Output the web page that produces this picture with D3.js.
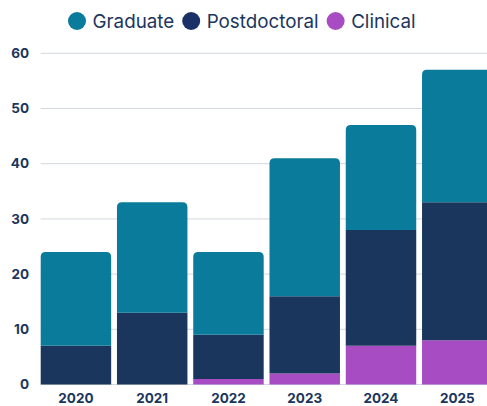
<!DOCTYPE html>
<html><head><meta charset="utf-8">
<script src="https://cdn.jsdelivr.net/npm/d3@7"></script>
<style>html,body{margin:0;padding:0;background:#fff;overflow:hidden}</style>
</head><body><svg id="c" width="487" height="406"></svg>
<script>
const years = ["2020","2021","2022","2023","2024","2025"];
const clinical = [0, 0, 1, 2, 7, 8];
const postdoctoral = [7, 13, 8, 14, 21, 25];
const graduate = [17, 20, 15, 25, 19, 24];
const seriesNames = ["Clinical","Postdoctoral","Graduate"];
const legendNames = ["Graduate","Postdoctoral","Clinical"];
const yTicks = [0,10,20,30,40,50,60];
const colors = {Graduate:"#0a7b9a", Postdoctoral:"#1b365d", Clinical:"#a84cc4"};
const legendColors = {Graduate:"#0a7b9a", Postdoctoral:"#1a3168", Clinical:"#a84cc4"};

const svg = d3.select("#c");
const font = "Inter, 'Noto Sans', sans-serif";
const x = d3.scaleBand().domain(years).range([40.7, 492.5]).paddingInner(0.076).paddingOuter(0);
const y = d3.scaleLinear().domain([0,60]).range([384.5, 53.3]);

// grid
svg.append("g").selectAll("line").data(yTicks).join("line")
  .attr("x1", 40.7).attr("x2", 487)
  .attr("y1", d=>y(d)).attr("y2", d=>y(d))
  .attr("stroke", "#d3d7e0").attr("stroke-width", 1);

// y labels
svg.append("g").selectAll("text").data(yTicks).join("text")
  .attr("x", 29).attr("y", d=>y(d)).attr("dy","0.35em")
  .attr("text-anchor","end").attr("font-family",font).attr("font-weight",700)
  .attr("font-size",13.5).attr("fill","#1b365d").text(d=>d);

// x labels
svg.append("g").selectAll("text").data(years).join("text")
  .attr("x", d=>x(d)+x.bandwidth()/2).attr("y", 398).attr("dy","0.35em")
  .attr("text-anchor","middle").attr("font-family",font).attr("font-weight",700)
  .attr("font-size",13.5).attr("fill","#1b365d").text(d=>d);

const table = years.map((yr,i)=>({year:yr, Clinical:clinical[i], Postdoctoral:postdoctoral[i], Graduate:graduate[i]}));
const stack = d3.stack().keys(seriesNames)(table);
const r = 5;
stack.forEach(layer=>{
  const top = layer.key === "Graduate";
  svg.append("g").selectAll("path").data(layer).join("path")
    .attr("fill", colors[layer.key])
    .attr("d", d=>{
      const x0 = x(d.data.year), w = x.bandwidth();
      const y0 = y(d[0]), y1 = y(d[1]);
      if (y0 - y1 <= 0) return "";
      if (!top) return `M${x0},${y0}V${y1}H${x0+w}V${y0}Z`;
      return `M${x0},${y0}V${y1+r}Q${x0},${y1} ${x0+r},${y1}H${x0+w-r}Q${x0+w},${y1} ${x0+w},${y1+r}V${y0}Z`;
    });
});

// legend
const lg = svg.append("g");
let cx = 68;
legendNames.forEach(n=>{
  lg.append("circle").attr("cx", cx+9).attr("cy", 21).attr("r", 9).attr("fill", legendColors[n]);
  const t = lg.append("text").attr("x", cx+24.5).attr("y", 21).attr("dy","0.36em")
    .attr("font-family",font).attr("font-size",18.8).attr("fill","#1b365d").text(n);
  cx = cx + 24.5 + t.node().getComputedTextLength() + 8;
});
</script></body></html>
